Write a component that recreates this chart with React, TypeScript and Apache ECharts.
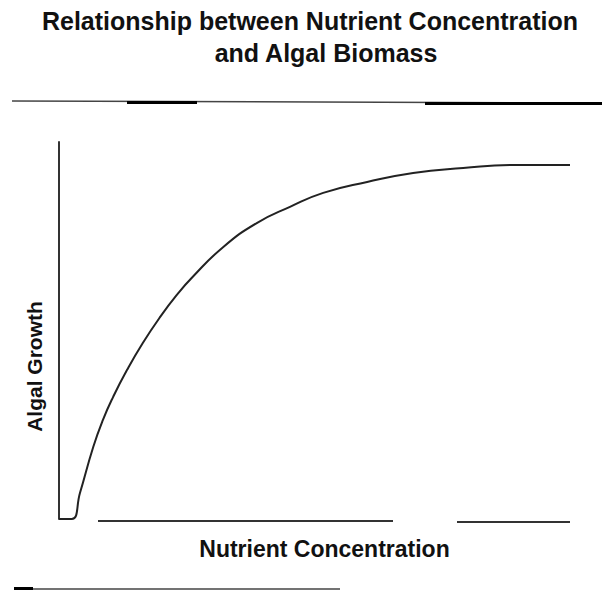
import React, { useEffect, useRef } from "react";
import * as echarts from "echarts";

const titleLines = ["Relationship between Nutrient Concentration", "and Algal Biomass"];
const xAxisName = "Nutrient Concentration";
const yAxisName = "Algal Growth";
const nutrient = [0, 2.5, 4.1, 6.7, 8.6, 10.6, 13.3, 16.4, 19.8, 23.1, 26, 32.1, 38.7, 45.2, 51.7, 60.3, 69.3, 79.1, 88.8, 100];
const growth = [0, 0, 6.9, 19.1, 26.3, 32.4, 39.5, 46.7, 53.6, 59.5, 64, 72.1, 78.5, 82.8, 86.5, 89.4, 91.8, 93.1, 93.9, 93.9];

export default function App() {
  const ref = useRef<HTMLDivElement>(null);
  useEffect(() => {
    if (!ref.current) return;
    const chart = echarts.init(ref.current, null, { renderer: "svg" });
    const font = "Liberation Sans, Arial, sans-serif";
    chart.setOption({
      animation: false,
      backgroundColor: "#fff",
      grid: { left: 59, right: 32, top: 142, bottom: 72 },
      xAxis: {
        type: "value",
        min: 0,
        max: 100,
        name: xAxisName,
        nameLocation: "middle",
        nameGap: 18,
        nameTextStyle: { fontFamily: font, fontWeight: "bold", fontSize: 23, color: "#111", padding: [0, 0, 0, 20] },
        axisLine: { show: false },
        axisTick: { show: false },
        axisLabel: { show: false },
        splitLine: { show: false },
      },
      yAxis: {
        type: "value",
        min: 0,
        max: 100,
        name: yAxisName,
        nameLocation: "middle",
        nameGap: 14,
        nameTextStyle: { fontFamily: font, fontWeight: "bold", fontSize: 21, color: "#111", padding: [0, 72, 0, 0] },
        axisLine: { show: true, lineStyle: { color: "#333", width: 2 } },
        axisTick: { show: false },
        axisLabel: { show: false },
        splitLine: { show: false },
      },
      series: [
        {
          type: "line",
          data: nutrient.map((x, i) => [x, growth[i]]),
          smooth: 0.5,
          showSymbol: false,
          clip: false,
          lineStyle: { color: "#222", width: 2 },
        },
      ],
      graphic: [
        { type: "text", x: 310, y: 21, style: { text: titleLines[0], font: `bold 25px ${font}`, fill: "#111", textAlign: "center", textVerticalAlign: "middle" } },
        { type: "text", x: 326, y: 53, style: { text: titleLines[1], font: `bold 25px ${font}`, fill: "#111", textAlign: "center", textVerticalAlign: "middle" } },
        { type: "line", shape: { x1: 12, y1: 101, x2: 602, y2: 103 }, style: { stroke: "#444", lineWidth: 1.5 } },
        { type: "rect", shape: { x: 127, y: 101, width: 70, height: 3 }, style: { fill: "#000" } },
        { type: "rect", shape: { x: 425, y: 102, width: 177, height: 3 }, style: { fill: "#000" } },
        { type: "line", shape: { x1: 98, y1: 521, x2: 393, y2: 521 }, style: { stroke: "#333", lineWidth: 2 } },
        { type: "line", shape: { x1: 457, y1: 522, x2: 570, y2: 522 }, style: { stroke: "#333", lineWidth: 2 } },
        { type: "line", shape: { x1: 14, y1: 589, x2: 340, y2: 589 }, style: { stroke: "#444", lineWidth: 1.5 } },
        { type: "rect", shape: { x: 14, y: 587, width: 19, height: 3 }, style: { fill: "#000" } },
      ],
    });
    return () => chart.dispose();
  }, []);
  return <div ref={ref} style={{ width: 602, height: 591, position: "absolute", left: 0, top: 0 }} />;
}
